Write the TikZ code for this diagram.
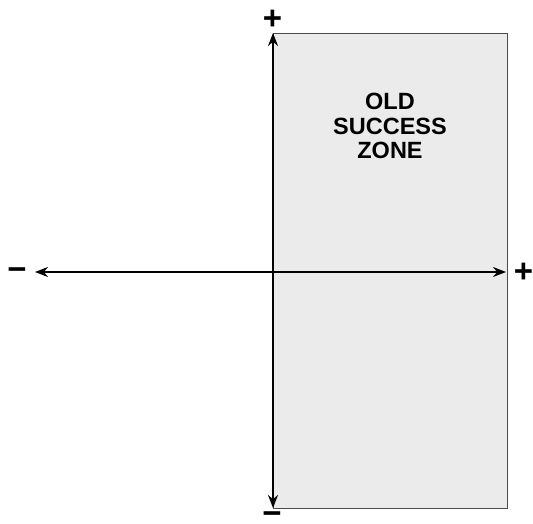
\documentclass[tikz,border=0pt]{standalone}
\usepackage{fontspec}
\setmainfont{Liberation Sans}
\usetikzlibrary{arrows.meta}
\begin{document}
\begin{tikzpicture}[x=1pt,y=-1pt,
  zone/.style={draw=black!70,line width=0.8pt,fill=black!8},
  axis/.style={line width=2pt,{Stealth[length=13pt,width=10pt]}-{Stealth[length=13pt,width=10pt]}},
  sign/.style={font=\fontsize{33}{33}\selectfont\bfseries,inner sep=0pt},
  lbl/.style={font=\fontsize{23.5}{24.5}\selectfont\bfseries,align=center}]
\useasboundingbox (0,0) rectangle (533,524);
\draw[zone] (273,33) rectangle (507,508);
\coordinate (top) at (273,33);
\coordinate (bot) at (273,508);
\coordinate (lft) at (35,272);
\coordinate (rgt) at (506,272);
\draw[axis] (bot) -- (top);
\draw[axis] (lft) -- (rgt);
\node[sign] (tp) at (272.5,19.5) {+};
\node[sign] (bm) at (272,518.5) {\char"2212};
\node[sign] (lm) at (17,274) {\char"2212};
\node[sign] (rp) at (523.5,273) {+};
\node[lbl] (zone) at (390,126) {OLD\\SUCCESS\\ZONE};
\end{tikzpicture}
\end{document}
